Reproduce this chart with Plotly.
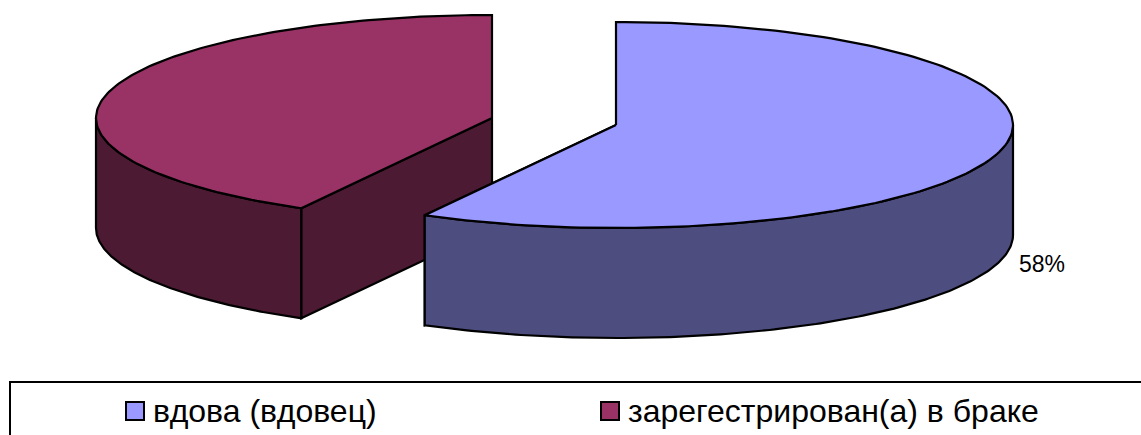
import numpy as np
import plotly.graph_objects as go

# Marital status shares, percent
categories = ["вдова (вдовец)", "зарегестрирован(а) в браке"]
shares = [58, 42]
value_label = "58%"

WIDTH, HEIGHT = 1141, 435
RY, DEPTH = 103, 110
TOP_COLORS = ["#9999FF", "#993366"]
SIDE_COLORS = ["#4D4D80", "#4D1A33"]
EDGE = dict(color="black", width=2.2)


def rim(cx, cy, rx, start, stop, n=160):
    """Points on the pie's elliptical rim; angles run clockwise from 12 o'clock."""
    t = np.radians(np.linspace(start, stop, n))
    return cx + rx * np.sin(t), cy - RY * np.cos(t)


def face(x, y, color):
    return go.Scatter(x=x, y=y, mode="lines", fill="toself", fillcolor=color,
                      line=EDGE, hoverinfo="skip", showlegend=False)


def wedge_traces(cx, cy, rx, start, stop, top, side):
    """Side walls and top face of one exploded slice."""
    traces = []
    # Flat cut faces that run from the hub to the rim and look toward the viewer
    for angle in (start, stop):
        rx_, ry_ = rim(cx, cy, rx, angle, angle, 1)
        if ry_[0] >= cy:
            traces.append(face([cx, rx_[0], rx_[0], cx, cx],
                               [cy, ry_[0], ry_[0] + DEPTH, cy + DEPTH, cy], side))
    # Curved wall: only the front half of the rim can be seen
    lo, hi = max(start, 90), min(stop, 270)
    if lo < hi:
        ax, ay = rim(cx, cy, rx, lo, hi)
        traces.append(face(np.r_[ax, ax[::-1], ax[0]],
                           np.r_[ay, ay[::-1] + DEPTH, ay[0]], side))
    ax, ay = rim(cx, cy, rx, start, stop)
    traces.append(face(np.r_[cx, ax, cx], np.r_[cy, ay, cy], top))
    return traces


sweep = [s / sum(shares) * 360 for s in shares]

fig = go.Figure()
# The far slice goes first so the near one overlaps its base
for tr in wedge_traces(492, 118, 396, 360 - sweep[1], 360, TOP_COLORS[1], SIDE_COLORS[1]):
    fig.add_trace(tr)
for tr in wedge_traces(616, 125, 397, 0, sweep[0], TOP_COLORS[0], SIDE_COLORS[0]):
    fig.add_trace(tr)

# Legend swatches
fig.add_trace(go.Scatter(
    x=[135, 610], y=[411, 411], mode="markers", hoverinfo="skip", showlegend=False,
    marker=dict(symbol="square", size=18, color=TOP_COLORS,
                line=dict(color="black", width=2)),
))

annotations = [
    dict(x=1017, y=264, text=value_label, xanchor="left", showarrow=False,
         font=dict(size=23, color="black")),
    dict(x=151, y=411, text=categories[0], xanchor="left", showarrow=False,
         font=dict(size=32, color="black")),
    dict(x=626, y=411, text=categories[1], xanchor="left", showarrow=False,
         font=dict(size=32, color="black")),
]

fig.update_layout(
    width=WIDTH, height=HEIGHT, margin=dict(l=0, r=0, t=0, b=0),
    paper_bgcolor="white", plot_bgcolor="white",
    font=dict(family="Liberation Sans, Arial, sans-serif"),
    xaxis=dict(range=[0, WIDTH], visible=False, fixedrange=True),
    yaxis=dict(range=[HEIGHT, 0], visible=False, fixedrange=True),
    annotations=annotations,
    # Legend frame, running off the right and bottom edges
    shapes=[dict(type="rect", x0=10, x1=WIDTH + 20, y0=382, y1=HEIGHT + 20,
                 line=dict(color="black", width=2), fillcolor="rgba(0,0,0,0)")],
)

fig.write_html("out.html", config={"displayModeBar": False})
